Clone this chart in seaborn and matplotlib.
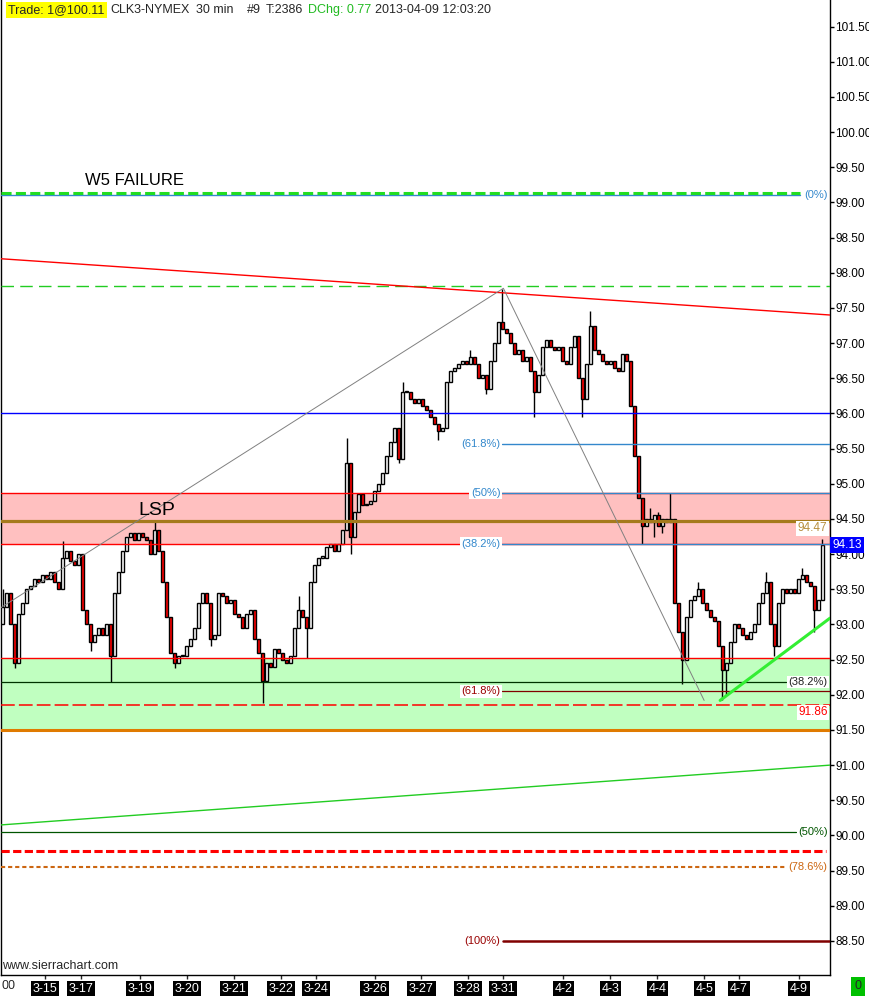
import numpy as np
import pandas as pd
import seaborn as sns
import matplotlib.pyplot as plt
from matplotlib.ticker import MultipleLocator, FormatStrFormatter
from matplotlib.transforms import blended_transform_factory

sns.set_style("white")
plt.rcParams['font.family'] = ['Liberation Sans', 'DejaVu Sans']

# closes of the 30 min bars (open = previous close)
first_open = 93.0
closes = [
    93.25, 93.45, 93.0, 92.45, 93.15, 93.3, 93.5, 93.55, 93.65, 93.6,
    93.7, 93.65, 93.75, 93.6, 93.5, 93.95, 94.05, 93.9, 93.85, 94.0,
    93.2, 93.0, 92.75, 92.85, 92.95, 92.85, 93.0, 92.55, 93.45, 93.75,
    94.05, 94.25, 94.3, 94.2, 94.3, 94.25, 94.2, 94.0, 94.35, 94.05,
    93.6, 93.1, 92.6, 92.45, 92.55, 92.55, 92.7, 92.8, 92.95, 93.3,
    93.45, 93.3, 92.8, 92.85, 93.45, 93.4, 93.3, 93.35, 93.15, 93.1,
    92.95, 93.15, 93.2, 92.8, 92.6, 92.2, 92.45, 92.4, 92.65, 92.6,
    92.5, 92.45, 92.55, 92.95, 93.2, 93.1, 92.95, 93.6, 93.85, 93.95,
    93.95, 94.1, 94.15, 94.05, 94.15, 94.35, 95.3, 94.25, 94.6, 94.85,
    94.7, 94.72, 94.75, 94.9, 95.0, 95.15, 95.4, 95.6, 95.8, 95.35,
    96.3, 96.3, 96.2, 96.15, 96.2, 96.1, 96.05, 95.95, 95.85, 95.75,
    95.8, 96.45, 96.6, 96.65, 96.7, 96.75, 96.7, 96.8, 96.7, 96.5,
    96.55, 96.35, 96.75, 97.0, 97.3, 97.2, 97.15, 97.0, 96.85, 96.9,
    96.75, 96.8, 96.6, 96.3, 96.55, 96.95, 97.05, 96.95, 96.9, 96.95,
    96.75, 96.7, 96.95, 97.1, 96.5, 96.2, 96.7, 97.25, 96.9, 96.85,
    96.75, 96.7, 96.75, 96.65, 96.6, 96.85, 96.75, 96.1, 95.4, 94.8,
    94.4, 94.5, 94.45, 94.55, 94.4, 94.5, 94.45, 94.5, 93.3, 92.9,
    92.5, 93.1, 93.35, 93.4, 93.5, 93.3, 93.2, 93.1, 93.05, 92.7,
    92.35, 92.45, 92.75, 93.0, 92.95, 92.85, 92.8, 92.9, 93.0, 93.3,
    93.45, 93.6, 93.0, 92.7, 93.3, 93.5, 93.45, 93.5, 93.45, 93.65,
    93.7, 93.6, 93.55, 93.2, 93.35, 94.13,
]
# bars whose wick sticks out past the body
wick_highs = {0: 93.5, 15: 94.18, 38: 94.45, 74: 93.4, 86: 95.65, 100: 96.45,
              117: 96.9, 125: 97.77, 147: 97.45, 162: 94.65, 164: 94.6,
              167: 94.87, 174: 93.6, 191: 93.75, 200: 93.8, 205: 94.22}
wick_lows = {3: 92.38, 22: 92.62, 27: 92.18, 43: 92.38, 52: 92.7, 65: 91.88,
             76: 92.52, 87: 94.0, 99: 95.3, 109: 95.62, 121: 96.28, 133: 95.95,
             145: 95.95, 160: 94.15, 163: 94.25, 165: 94.3, 170: 92.15,
             180: 91.92, 181: 92.0, 193: 92.55, 203: 92.9}

day_labels = ['3-15', '3-17', '3-19', '3-20', '3-21', '3-22', '3-24', '3-26', '3-27',
              '3-28', '3-31', '4-2', '4-3', '4-4', '4-5', '4-7', '4-9']
day_start_bar = [10.5, 19.5, 34.25, 46, 57.75, 69.5, 78.25, 93, 104.75,
                 116.5, 125.25, 140.25, 152, 163.75, 175.5, 184.25, 199.25]

# horizontal levels
w5_failure = 99.14
fib_0 = 99.11
top_dash = 97.81
pivot_blue = 96.00
fib_618_up = 95.57
lsp_top = 94.87
lsp_mid = 94.47
lsp_bot = 94.15
last_price = 94.13
sup_top = 92.52
fib_382_low = 92.18
fib_618_low = 92.05
stop_level = 91.86
sup_bot = 91.50
fib_50_low = 90.05
red_dash_low = 89.78
fib_786 = 89.55
fib_100 = 88.50

# sloped lines: (bar, price) anchors
resistance_line = [(-0.5, 98.20), (207, 97.40)]
support_line = [(-0.5, 90.15), (207, 91.00)]
fib_path = [(-0.5, 93.24), (125.25, 97.78), (175.5, 91.92)]
up_trend = [(179.5, 91.92), (207, 93.09)]

df = pd.DataFrame({'bar': np.arange(len(closes)),
                   'open': [first_open] + closes[:-1],
                   'close': closes})
df['high'] = df[['open', 'close']].max(axis=1)
df['low'] = df[['open', 'close']].min(axis=1)
for k, v in wick_highs.items():
    df.loc[k, 'high'] = v
for k, v in wick_lows.items():
    df.loc[k, 'low'] = v
up = df['close'] >= df['open']

fig = plt.figure(figsize=(8.7, 9.96), dpi=100)
ax = fig.add_axes([1 / 870, 21 / 996, 829 / 870, 975 / 996])
ax.set_xlim(-0.5, 207)
ax.set_ylim(88.016, 101.879)

# zones
ax.axhspan(lsp_bot, lsp_top, color='#ffc0c0', lw=0, zorder=0)
ax.axhspan(sup_bot, sup_top, color='#c0ffc0', lw=0, zorder=0)

# candles
ax.vlines(df['bar'], df['low'], df['high'], color='black', lw=1.0, zorder=2)
ax.bar(df['bar'], (df['close'] - df['open']).abs().clip(lower=0.02),
       bottom=df[['open', 'close']].min(axis=1), width=0.75,
       color=np.where(up, 'white', '#ff0000'), edgecolor='black',
       linewidth=1.0, zorder=3)

Z = 4
fx = lambda px: px / 830
ax.axhline(fib_0, xmax=fx(800), color='#3388cc', lw=1, zorder=Z)
ax.axhline(w5_failure, xmax=fx(800), color='#22dd22', lw=2.2, dashes=(3.3, 1.4), zorder=Z)
ax.axhline(top_dash, color='#22cc22', lw=1.0, dashes=(9, 4.5), zorder=Z)
ax.axhline(pivot_blue, color='#0000ff', lw=1.0, zorder=Z)
ax.axhline(fib_618_up, xmin=fx(502), color='#3388cc', lw=1, zorder=Z)
ax.axhline(lsp_top, color='#ff0000', lw=1, zorder=Z)
ax.axhline(lsp_top, xmin=fx(502), color='#3388cc', lw=1, zorder=Z)
ax.axhline(lsp_bot, color='#ff0000', lw=1, zorder=Z)
ax.axhline(lsp_bot, xmin=fx(502), color='#3388cc', lw=1, zorder=Z)
ax.axhline(lsp_mid, color='#a57a1c', lw=2.3, zorder=Z)
ax.axhline(sup_top, color='#ff0000', lw=1, zorder=Z)
ax.axhline(fib_382_low, xmax=fx(786), color='#003300', lw=0.9, zorder=Z)
ax.axhline(fib_618_low, xmin=fx(502), color='#800000', lw=0.9, zorder=Z)
ax.axhline(stop_level, color='#ff0000', lw=1.1, dashes=(9, 2.7), zorder=Z)
ax.axhline(sup_bot, color='#e07a00', lw=2.2, zorder=Z)
ax.axhline(fib_50_low, xmax=fx(796), color='#005500', lw=0.9, zorder=Z)
ax.axhline(red_dash_low, xmax=fx(826), color='#ff0000', lw=2.2, dashes=(2.7, 1.1), zorder=Z)
ax.axhline(fib_786, xmax=fx(786), color='#cc6611', lw=1.5, dashes=(2, 1.4), zorder=Z)
ax.axhline(fib_100, xmin=fx(503), color='#800000', lw=1.8, zorder=Z)

for pts, col, lw in [(resistance_line, '#ff0000', 1.0), (support_line, '#22cc22', 1.0),
                     (fib_path, '#808080', 0.7), (up_trend, '#33ee33', 2.2)]:
    xs, ys = zip(*pts)
    sns.lineplot(x=list(xs), y=list(ys), ax=ax, color=col, lw=lw, zorder=Z)

# level labels
white_box = dict(facecolor='white', edgecolor='none', pad=1)
fs = 8
for y, txt, col in [(fib_618_up, '(61.8%)', '#3388cc'), (lsp_top, '(50%)', '#3388cc'),
                    (lsp_bot, '(38.2%)', '#3388cc'), (fib_618_low, '(61.8%)', '#990000'),
                    (fib_100, '(100%)', '#990000')]:
    ax.text(124.5, y, txt, color=col, fontsize=fs, ha='right', va='center',
            bbox=white_box, zorder=5)

rt = blended_transform_factory(ax.transAxes, ax.transData)
for y, txt, col in [(fib_0, '(0%)', '#3388cc'), (94.37, '94.47', '#b89040'),
                    (fib_382_low, '(38.2%)', '#222222'), (91.75, '91.86', '#ff0000'),
                    (fib_50_low, '(50%)', '#005500'), (fib_786, '(78.6%)', '#cc6611')]:
    ax.text(0.997, y, txt, color=col, fontsize=fs + 0.5 if txt[0] != '(' else fs,
            ha='right', va='center', transform=rt, bbox=white_box, zorder=5)

ax.text(1.003, last_price, '94.13', color='white', fontsize=8.5, ha='left', va='center',
        transform=rt, bbox=dict(facecolor='#0000ff', edgecolor='none', pad=1.5),
        zorder=6, clip_on=False)

ax.text(20.5, 99.25, 'W5 FAILURE', fontsize=12, color='black', va='baseline', zorder=5)
ax.text(34, 94.56, 'LSP', fontsize=14, color='black', va='baseline', zorder=5)

# axes styling
for s in ['left', 'right', 'bottom']:
    ax.spines[s].set_visible(True)
    ax.spines[s].set_color('black')
    ax.spines[s].set_linewidth(1)
ax.spines['top'].set_visible(False)
ax.yaxis.tick_right()
ax.yaxis.set_major_locator(MultipleLocator(0.5))
ax.yaxis.set_major_formatter(FormatStrFormatter('%.2f'))
ax.tick_params(axis='y', right=True, left=False, direction='out', length=3,
               width=1, pad=0.8, labelsize=8.5, colors='black')
ax.set_xticks(day_start_bar)
ax.set_xticklabels(day_labels)
ax.tick_params(axis='x', bottom=True, direction='out', length=3, width=1,
               pad=2.5, labelsize=9)
for lab in ax.get_xticklabels():
    lab.set_color('white')
    lab.set_bbox(dict(facecolor='black', edgecolor='none', pad=1.2))
ax.set_xlabel('')
ax.set_ylabel('')

# header and footer texts
def ft(px, py, s, **kw):
    fig.text(px / 870, 1 - py / 996, s, fontsize=9, va='center', ha='left', **kw)

ft(8, 10, 'Trade: 1@100.11', bbox=dict(facecolor='#ffff00', edgecolor='none', pad=1.6))
ft(110, 10, 'CLK3-NYMEX')
ft(196, 10, '30 min')
ft(247, 10, '#9')
ft(266, 10, 'T:2386')
ft(308, 10, 'DChg: 0.77', color='#22bb22')
ft(375, 10, '2013-04-09 12:03:20')
ft(2, 966, 'www.sierrachart.com')
ft(2, 986, '00')
ft(855, 986, '0', bbox=dict(facecolor='#00c000', edgecolor='none', pad=2.5))

fig.savefig('out.png', dpi=100)
plt.close(fig)
